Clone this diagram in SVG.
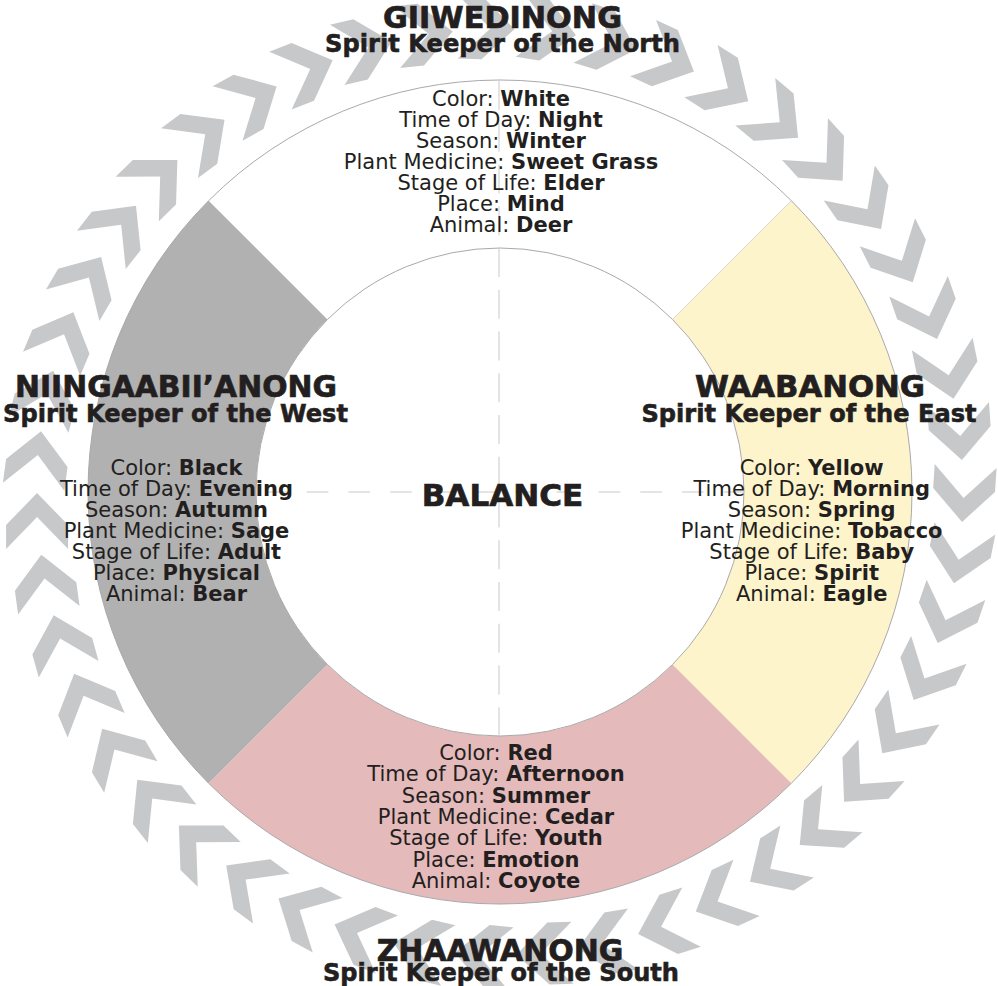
<svg xmlns="http://www.w3.org/2000/svg" xmlns:xlink="http://www.w3.org/1999/xlink" width="998" height="986" viewBox="0 0 998 986">
<style>
  .chev { fill: #c7c8ca; }
  .ring { stroke: none; }
  .edge { fill: none; stroke: #a9a9ab; stroke-width: 1; }
  .guide { fill: none; stroke: #c9c9c9; stroke-width: 1; }
  text { font-family: "DejaVu Sans", "Liberation Sans", sans-serif; fill: #231f20; }
  .title { font-size: 30px; font-weight: bold; text-anchor: middle; stroke: #231f20; stroke-width: 0.7; }
  .sub { font-size: 25px; font-weight: bold; text-anchor: middle; stroke: #231f20; stroke-width: 0.6; }
  .body { font-size: 21px; text-anchor: middle; }
  .b { font-weight: bold; }
</style>
<defs>
  <polygon id="chevron" points="963,492 994,460 994,436 963,468 932,436 932,460"/>
</defs>
<rect width="998" height="986" fill="#ffffff"/>
<g id="chevrons" class="chev">
  <use xlink:href="#chevron" transform="rotate(3.7 500 492)"/>
  <use xlink:href="#chevron" transform="rotate(11.36 500 492)"/>
  <use xlink:href="#chevron" transform="rotate(19.02 500 492)"/>
  <use xlink:href="#chevron" transform="rotate(26.68 500 492)"/>
  <use xlink:href="#chevron" transform="rotate(34.34 500 492)"/>
  <use xlink:href="#chevron" transform="rotate(42.0 500 492)"/>
  <use xlink:href="#chevron" transform="rotate(49.66 500 492)"/>
  <use xlink:href="#chevron" transform="rotate(57.32 500 492)"/>
  <use xlink:href="#chevron" transform="rotate(64.98 500 492)"/>
  <use xlink:href="#chevron" transform="rotate(72.64 500 492)"/>
  <use xlink:href="#chevron" transform="rotate(80.3 500 492)"/>
  <use xlink:href="#chevron" transform="rotate(87.96 500 492)"/>
  <use xlink:href="#chevron" transform="rotate(95.61 500 492)"/>
  <use xlink:href="#chevron" transform="rotate(103.27 500 492)"/>
  <use xlink:href="#chevron" transform="rotate(110.93 500 492)"/>
  <use xlink:href="#chevron" transform="rotate(118.59 500 492)"/>
  <use xlink:href="#chevron" transform="rotate(126.25 500 492)"/>
  <use xlink:href="#chevron" transform="rotate(133.91 500 492)"/>
  <use xlink:href="#chevron" transform="rotate(141.57 500 492)"/>
  <use xlink:href="#chevron" transform="rotate(149.23 500 492)"/>
  <use xlink:href="#chevron" transform="rotate(156.89 500 492)"/>
  <use xlink:href="#chevron" transform="rotate(164.55 500 492)"/>
  <use xlink:href="#chevron" transform="rotate(172.21 500 492)"/>
  <use xlink:href="#chevron" transform="rotate(179.87 500 492)"/>
  <use xlink:href="#chevron" transform="rotate(187.53 500 492)"/>
  <use xlink:href="#chevron" transform="rotate(195.19 500 492)"/>
  <use xlink:href="#chevron" transform="rotate(202.85 500 492)"/>
  <use xlink:href="#chevron" transform="rotate(210.51 500 492)"/>
  <use xlink:href="#chevron" transform="rotate(218.17 500 492)"/>
  <use xlink:href="#chevron" transform="rotate(225.83 500 492)"/>
  <use xlink:href="#chevron" transform="rotate(233.49 500 492)"/>
  <use xlink:href="#chevron" transform="rotate(241.15 500 492)"/>
  <use xlink:href="#chevron" transform="rotate(248.81 500 492)"/>
  <use xlink:href="#chevron" transform="rotate(256.47 500 492)"/>
  <use xlink:href="#chevron" transform="rotate(264.13 500 492)"/>
  <use xlink:href="#chevron" transform="rotate(271.79 500 492)"/>
  <use xlink:href="#chevron" transform="rotate(279.44 500 492)"/>
  <use xlink:href="#chevron" transform="rotate(287.1 500 492)"/>
  <use xlink:href="#chevron" transform="rotate(294.76 500 492)"/>
  <use xlink:href="#chevron" transform="rotate(302.42 500 492)"/>
  <use xlink:href="#chevron" transform="rotate(310.08 500 492)"/>
  <use xlink:href="#chevron" transform="rotate(317.74 500 492)"/>
  <use xlink:href="#chevron" transform="rotate(325.4 500 492)"/>
  <use xlink:href="#chevron" transform="rotate(333.06 500 492)"/>
  <use xlink:href="#chevron" transform="rotate(340.72 500 492)"/>
  <use xlink:href="#chevron" transform="rotate(348.38 500 492)"/>
  <use xlink:href="#chevron" transform="rotate(356.04 500 492)"/>
</g>
<g id="ring">
  <path id="seg-north" class="ring" fill="#ffffff" d="M 208.67 200.67 A 412 412 0 0 1 791.33 200.67 L 672.53 319.47 A 244 244 0 0 0 327.47 319.47 Z"/>
  <path id="seg-east" class="ring" fill="#fef4cb" d="M 791.33 200.67 A 412 412 0 0 1 791.33 783.33 L 672.53 664.53 A 244 244 0 0 0 672.53 319.47 Z"/>
  <path id="seg-south" class="ring" fill="#e5babb" d="M 791.33 783.33 A 412 412 0 0 1 208.67 783.33 L 327.47 664.53 A 244 244 0 0 0 672.53 664.53 Z"/>
  <path id="seg-west" class="ring" fill="#b1b1b1" d="M 208.67 783.33 A 412 412 0 0 1 208.67 200.67 L 327.47 319.47 A 244 244 0 0 0 327.47 664.53 Z"/>
  <line x1="791.33" y1="200.67" x2="672.53" y2="319.47" stroke="#cfcfcf" stroke-width="0.8"/>
  <circle class="edge" cx="500" cy="492" r="412"/>
  <circle cx="500" cy="492" r="244" fill="#ffffff" stroke="#a9a9ab" stroke-width="1"/>
</g>
<g id="connectors">
  <line class="guide" x1="499" y1="81" x2="499" y2="736" stroke-dasharray="29 12.75"/>
  <line class="guide" x1="265" y1="492" x2="744" y2="492" stroke-dasharray="21.7 20"/>
</g>
<g id="north">
  <text class="title" x="502.5" y="27.5" textLength="239" lengthAdjust="spacingAndGlyphs">GIIWEDINONG</text>
  <text class="sub" x="502.5" y="52" textLength="355" lengthAdjust="spacingAndGlyphs">Spirit Keeper of the North</text>
  <text class="body" x="501" y="106">Color: <tspan class="b">White</tspan></text>
  <text class="body" x="501" y="127">Time of Day: <tspan class="b">Night</tspan></text>
  <text class="body" x="501" y="148">Season: <tspan class="b">Winter</tspan></text>
  <text class="body" x="501" y="169">Plant Medicine: <tspan class="b">Sweet Grass</tspan></text>
  <text class="body" x="501" y="190">Stage of Life: <tspan class="b">Elder</tspan></text>
  <text class="body" x="501" y="211">Place: <tspan class="b">Mind</tspan></text>
  <text class="body" x="501" y="232">Animal: <tspan class="b">Deer</tspan></text>
</g>
<g id="west">
  <text class="title" x="176" y="396.5" textLength="322" lengthAdjust="spacingAndGlyphs">NIINGAABII&#8217;ANONG</text>
  <text class="sub" x="175.5" y="421.5" textLength="345" lengthAdjust="spacingAndGlyphs">Spirit Keeper of the West</text>
  <text class="body" x="176.5" y="475">Color: <tspan class="b">Black</tspan></text>
  <text class="body" x="176.5" y="496">Time of Day: <tspan class="b">Evening</tspan></text>
  <text class="body" x="176.5" y="517">Season: <tspan class="b">Autumn</tspan></text>
  <text class="body" x="176.5" y="538">Plant Medicine: <tspan class="b">Sage</tspan></text>
  <text class="body" x="176.5" y="559">Stage of Life: <tspan class="b">Adult</tspan></text>
  <text class="body" x="176.5" y="580">Place: <tspan class="b">Physical</tspan></text>
  <text class="body" x="176.5" y="601">Animal: <tspan class="b">Bear</tspan></text>
</g>
<g id="east">
  <text class="title" x="810" y="396.5" textLength="230" lengthAdjust="spacingAndGlyphs">WAABANONG</text>
  <text class="sub" x="809" y="422" textLength="335" lengthAdjust="spacingAndGlyphs">Spirit Keeper of the East</text>
  <text class="body" x="811.7" y="474.5">Color: <tspan class="b">Yellow</tspan></text>
  <text class="body" x="811.7" y="495.5">Time of Day: <tspan class="b">Morning</tspan></text>
  <text class="body" x="811.7" y="516.5">Season: <tspan class="b">Spring</tspan></text>
  <text class="body" x="811.7" y="537.5">Plant Medicine: <tspan class="b">Tobacco</tspan></text>
  <text class="body" x="811.7" y="558.5">Stage of Life: <tspan class="b">Baby</tspan></text>
  <text class="body" x="811.7" y="579.5">Place: <tspan class="b">Spirit</tspan></text>
  <text class="body" x="811.7" y="600.5">Animal: <tspan class="b">Eagle</tspan></text>
</g>
<g id="south">
  <text class="body" x="496" y="760">Color: <tspan class="b">Red</tspan></text>
  <text class="body" x="496" y="781.3">Time of Day: <tspan class="b">Afternoon</tspan></text>
  <text class="body" x="496" y="802.6">Season: <tspan class="b">Summer</tspan></text>
  <text class="body" x="496" y="823.9">Plant Medicine: <tspan class="b">Cedar</tspan></text>
  <text class="body" x="496" y="845.2">Stage of Life: <tspan class="b">Youth</tspan></text>
  <text class="body" x="496" y="866.5">Place: <tspan class="b">Emotion</tspan></text>
  <text class="body" x="496" y="887.8">Animal: <tspan class="b">Coyote</tspan></text>
  <text class="title" x="500" y="961" textLength="246.7" lengthAdjust="spacingAndGlyphs">ZHAAWANONG</text>
  <text class="sub" x="501" y="980.5" textLength="356" lengthAdjust="spacingAndGlyphs">Spirit Keeper of the South</text>
</g>
<g id="balance">
  <text class="title" x="502.5" y="506" textLength="161.6" lengthAdjust="spacingAndGlyphs" style="font-size:31px">BALANCE</text>
</g>
</svg>
